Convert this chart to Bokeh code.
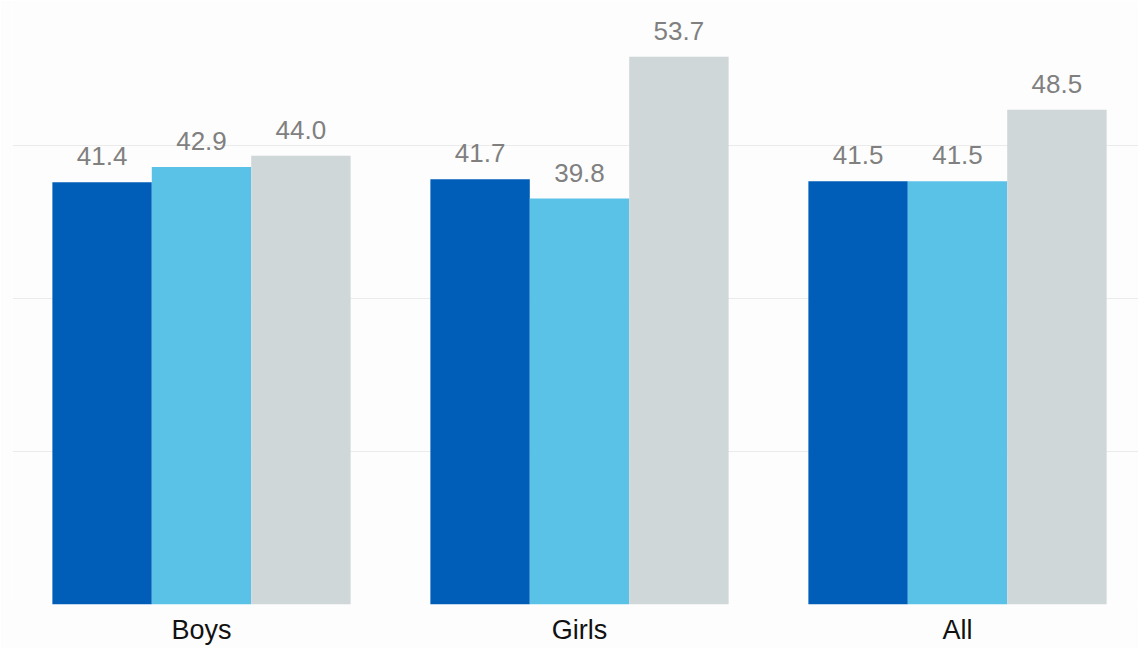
from bokeh.plotting import figure
from bokeh.models import ColumnDataSource, FixedTicker, Range1d
from bokeh.transform import dodge
from bokeh.core.properties import value
from bokeh.embed import file_html
from bokeh.resources import INLINE

categories = ["Boys", "Girls", "All"]
series1 = [41.4, 41.7, 41.5]
series2 = [42.9, 39.8, 41.5]
series3 = [44.0, 53.7, 48.5]
colors = ["#005EB8", "#5BC2E7", "#D0D7D8"]

xpos = [i + 0.5 for i in range(len(categories))]
src = ColumnDataSource(dict(
    x=xpos, s1=series1, s2=series2, s3=series3,
    l1=[f"{v:.1f}" for v in series1],
    l2=[f"{v:.1f}" for v in series2],
    l3=[f"{v:.1f}" for v in series3],
))

bw = 0.263
p = figure(width=1138, height=648, output_backend="svg", toolbar_location=None,
           x_range=Range1d(0, 1126 / 378), y_range=Range1d(0, 604 / 10.2),
           min_border_left=12, min_border_right=0, min_border_top=0, min_border_bottom=44)
p.background_fill_color = "#fdfdfd"
p.border_fill_color = "#fdfdfd"
p.outline_line_color = None

for k, (col, lab) in enumerate([("s1", "l1"), ("s2", "l2"), ("s3", "l3")]):
    off = (k - 1) * bw
    p.vbar(x=dodge("x", off), top=col, width=bw, bottom=0, source=src,
           fill_color=colors[k], line_color=None)
    p.text(x=dodge("x", off), y=col, text=lab, source=src,
           text_align="center", text_baseline="alphabetic", y_offset=-26,
           text_font=value("Liberation Sans"), text_font_size="26px",
           text_color="#808080")

p.yaxis.visible = False
p.ygrid.ticker = FixedTicker(ticks=[0, 15, 30, 45])
p.ygrid.grid_line_color = "#ebebeb"
p.xgrid.grid_line_color = None

p.xaxis.ticker = FixedTicker(ticks=xpos)
p.xaxis.major_label_overrides = {x: c for x, c in zip(xpos, categories)}
p.xaxis.axis_line_color = None
p.xaxis.major_tick_line_color = None
p.xaxis.major_tick_out = 0
p.xaxis.minor_tick_line_color = None
p.xaxis.major_label_text_font = "Liberation Sans"
p.xaxis.major_label_text_font_size = "27px"
p.xaxis.major_label_text_color = "#111111"
p.xaxis.major_label_standoff = 10

open("out.html", "w").write(file_html(p, INLINE))
